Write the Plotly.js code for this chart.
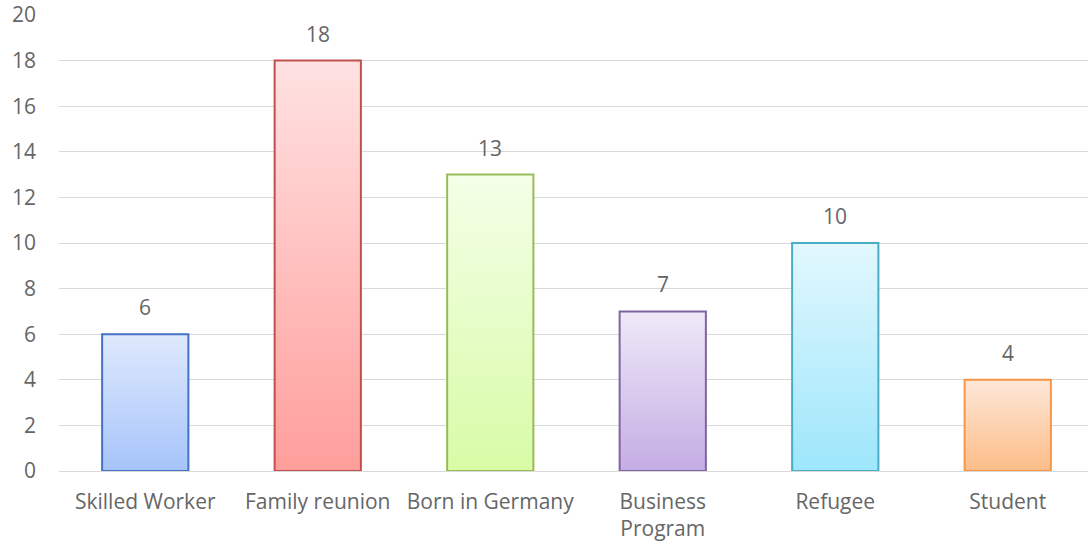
<!DOCTYPE html>
<html>
<head>
<meta charset="utf-8">
<script src="https://cdn.plot.ly/plotly-3.0.1.min.js"></script>
<style>
html,body{margin:0;padding:0;background:#fff;overflow:hidden;width:1088px;height:545px;}
#chart{width:1094px;height:545px;}
</style>
</head>
<body>
<div id="chart"></div>
<script>
const categories = ["Skilled Worker", "Family reunion", "Born in Germany", "Business<br>Program", "Refugee", "Student"];
const values = [6, 18, 13, 7, 10, 4];
const borderColors = ["#4472C4", "#C0504D", "#9BBB59", "#8064A2", "#4BACC6", "#F79646"];
const topColors = ["#dfe9fd", "#ffe2e2", "#f4ffe8", "#efe9f8", "#e2f8fe", "#fee8d8"];
const bottomColors = ["#a6c4fa", "#ff9e9b", "#d8fba6", "#c4ade4", "#9de6fb", "#fcbd88"];
const yTicks = [0, 2, 4, 6, 8, 10, 12, 14, 16, 18, 20];

const FONT = "'Open Sans', 'Noto Sans', sans-serif";
const TXT = "#666666";
const FS = 21;

const trace = {
  type: "bar",
  x: categories,
  y: values,
  marker: {color: bottomColors, line: {color: borderColors, width: 2}},
  hoverinfo: "none"
};

const annotations = categories.map((c, i) => ({
  x: c, y: values[i], xref: "x", yref: "y",
  text: String(values[i]), showarrow: false,
  yanchor: "bottom", yshift: 11,
  font: {family: FONT, size: FS, color: TXT}
}));

const layout = {
  width: 1094, height: 545,
  margin: {l: 59, r: 0, t: 15, b: 74},
  paper_bgcolor: "#ffffff", plot_bgcolor: "#ffffff",
  bargap: 0.5,
  showlegend: false,
  font: {family: FONT, size: FS, color: TXT},
  annotations: annotations,
  xaxis: {
    type: "category",
    showgrid: false, showline: false, zeroline: false,
    ticks: "", tickfont: {family: FONT, size: FS, color: TXT},
    ticklabelstandoff: 16,
    automargin: false
  },
  yaxis: {
    range: [0, 20], tickvals: yTicks, ticktext: yTicks.map(String),
    showgrid: true, gridcolor: "#d9d9d9", gridwidth: 1,
    zeroline: true, zerolinecolor: "#d9d9d9", zerolinewidth: 1,
    showline: false, ticks: "",
    tickfont: {family: FONT, size: FS, color: TXT},
    ticklabelstandoff: 22,
    automargin: false
  }
};

function applyGradients(gd) {
  const svg = gd.querySelector("svg.main-svg");
  if (!svg) return;
  const ns = "http://www.w3.org/2000/svg";
  let defs = svg.querySelector("defs#gradDefs");
  if (!defs) {
    defs = document.createElementNS(ns, "defs");
    defs.setAttribute("id", "gradDefs");
    svg.insertBefore(defs, svg.firstChild);
    for (let i = 0; i < values.length; i++) {
      const g = document.createElementNS(ns, "linearGradient");
      g.setAttribute("id", "barGrad" + i);
      g.setAttribute("x1", "0"); g.setAttribute("y1", "0");
      g.setAttribute("x2", "0"); g.setAttribute("y2", "1");
      const s1 = document.createElementNS(ns, "stop");
      s1.setAttribute("offset", "0"); s1.setAttribute("stop-color", topColors[i]);
      const s2 = document.createElementNS(ns, "stop");
      s2.setAttribute("offset", "1"); s2.setAttribute("stop-color", bottomColors[i]);
      g.appendChild(s1); g.appendChild(s2);
      defs.appendChild(g);
    }
  }
  const paths = gd.querySelectorAll(".barlayer .point path");
  paths.forEach((p, i) => { p.style.fill = "url(#barGrad" + i + ")"; });
}

const gd = document.getElementById("chart");
Plotly.newPlot(gd, [trace], layout, {displayModeBar: false, staticPlot: true}).then(() => {
  applyGradients(gd);
  gd.on("plotly_afterplot", () => applyGradients(gd));
});
</script>
</body>
</html>
